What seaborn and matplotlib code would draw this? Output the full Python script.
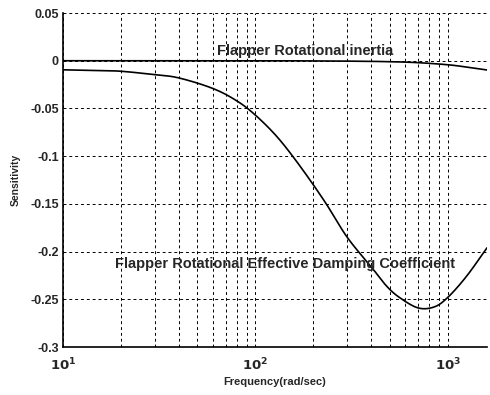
import numpy as np
import pandas as pd
import matplotlib
matplotlib.use("Agg")
import matplotlib.pyplot as plt
import seaborn as sns
from matplotlib.ticker import LogLocator, NullFormatter

# Data
freq_damping = [10, 15, 20, 30, 40, 60, 80, 100, 130, 170, 230, 300, 400, 480, 560, 700, 850, 1000, 1250, 1600]
sens_damping = [-0.0095, -0.0102, -0.011, -0.0146, -0.018, -0.029, -0.042, -0.057, -0.08, -0.11,
                -0.148, -0.185, -0.216, -0.236, -0.248, -0.259, -0.258, -0.248, -0.226, -0.196]
freq_inertia = [10, 100, 300, 500, 700, 1000, 1250, 1600]
sens_inertia = [0.0, 0.0, -0.0004, -0.001, -0.002, -0.0042, -0.0066, -0.0097]

y_ticks = [0.05, 0, -0.05, -0.1, -0.15, -0.2, -0.25, -0.3]
y_tick_labels = ["0.05", "0", "-0.05", "-0.1", "-0.15", "-0.2", "-0.25", "-0.3"]
x_ticks = [10, 100, 1000]
x_tick_labels = [r"$\mathbf{10^1}$", r"$\mathbf{10^2}$", r"$\mathbf{10^3}$"]

label_inertia = "Flapper Rotational inertia"
label_damping = "Flapper Rotational Effective Damping Coefficient"

sns.set_style("white")
plt.rcParams['font.family'] = ['Liberation Sans', 'DejaVu Sans']

fig = plt.figure(figsize=(4.9, 3.95), dpi=100)
ax = fig.add_axes([0.1286, 0.1215, 0.8654, 0.8455])

def catmull(fx, fy, n=30):
    lx = list(np.log10(fx)); ly = list(fy)
    px = [2*lx[0]-lx[1]] + lx + [2*lx[-1]-lx[-2]]
    py = [2*ly[0]-ly[1]] + ly + [2*ly[-1]-ly[-2]]
    ox, oy = [], []
    for i in range(1, len(px)-2):
        for t in np.linspace(0, 1, n, endpoint=False):
            t2, t3 = t*t, t*t*t
            for arr, out in ((px, ox), (py, oy)):
                p0, p1, p2, p3 = arr[i-1], arr[i], arr[i+1], arr[i+2]
                out.append(0.5*((2*p1) + (-p0+p2)*t + (2*p0-5*p1+4*p2-p3)*t2 + (-p0+3*p1-3*p2+p3)*t3))
    ox.append(lx[-1]); oy.append(ly[-1])
    return 10 ** np.array(ox), np.array(oy)

dx, dy = catmull(freq_damping, sens_damping)
ix, iy = catmull(freq_inertia, sens_inertia)
df = pd.concat([
    pd.DataFrame({"freq": dx, "sens": dy, "series": label_damping}),
    pd.DataFrame({"freq": ix, "sens": iy, "series": label_inertia}),
])
sns.lineplot(data=df, x="freq", y="sens", units="series", estimator=None,
             color="black", lw=1.2, ax=ax, sort=False, legend=False)

ax.set_xscale("log")
ax.set_xlim(10, 1600)
ax.set_ylim(-0.3, 0.05)
ax.set_xticks(x_ticks)
ax.set_xticklabels(x_tick_labels, fontsize=9.5)
ax.xaxis.set_minor_locator(LogLocator(base=10, subs=np.arange(2, 10)))
ax.xaxis.set_minor_formatter(NullFormatter())
ax.set_yticks(y_ticks)
ax.set_yticklabels(y_tick_labels, fontsize=9, fontweight="bold")

grid_kw = dict(color="black", linestyle=(0, (3, 3)), linewidth=0.7)
ax.grid(True, which="major", axis="both", **grid_kw)
ax.grid(True, which="minor", axis="x", **grid_kw)

for s in ["top", "right"]:
    ax.spines[s].set_visible(False)
for s in ["left", "bottom"]:
    ax.spines[s].set_color("black")
    ax.spines[s].set_linewidth(1.2)
ax.tick_params(axis="y", which="both", direction="in", length=0, pad=3)
ax.tick_params(axis="x", which="both", direction="in", length=0, pad=7)

ax.set_xlabel("Frequency(rad/sec)", fontsize=8, fontweight="bold", labelpad=3)
ax.set_ylabel("Sensitivity", fontsize=7.5, fontweight="bold", labelpad=7)

ax.text(63.5, 0.0104, label_inertia, fontsize=10.5, fontweight="bold", ha="left", va="center")
ax.text(18.6, -0.2125, label_damping, fontsize=10.5, fontweight="bold", ha="left", va="center")

fig.savefig("out.png", dpi=100)
